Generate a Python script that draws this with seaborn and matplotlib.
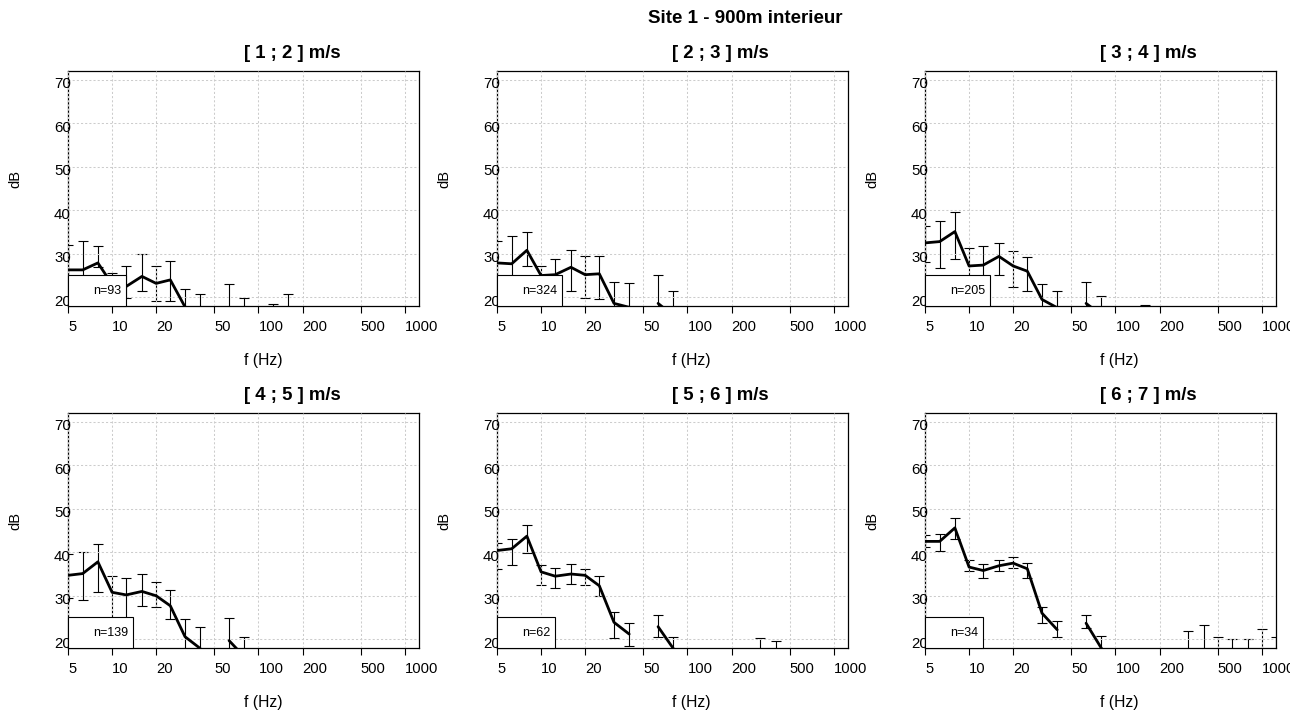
import numpy as np
import pandas as pd
import seaborn as sns
import matplotlib.pyplot as plt
from matplotlib.lines import Line2D
from matplotlib.ticker import NullLocator
from matplotlib.transforms import ScaledTranslation, Bbox, TransformedBbox

nan = np.nan

# 1/3 octave band centre frequencies (Hz), 50 Hz band is missing in every class
freqs = [5, 6.3, 8, 10, 12.5, 16, 20, 25, 31.5, 40, 50, 63, 80, 100, 125, 160,
         200, 250, 315, 400, 500, 630, 800, 1000, 1250]

titles = ["[ 1 ; 2 ] m/s", "[ 2 ; 3 ] m/s", "[ 3 ; 4 ] m/s",
          "[ 4 ; 5 ] m/s", "[ 5 ; 6 ] m/s", "[ 6 ; 7 ] m/s"]
counts = [93, 324, 205, 139, 62, 34]

mean_1_2 = [26.3, 26.3, 27.9, 23.0, 22.5, 24.8, 23.2, 24.0, 17.8, 16.5, nan, 17.0, 15.5,
            13.5, 15.0, 16.0, 13.0, 13.0, 13.0, 13.0, 13.0, 13.0, 13.0, 13.0, 13.0]
lo_1_2 = [21.0, 19.7, 26.9, 20.0, 19.9, 21.5, 19.2, 19.2, 13.5, 12.0, nan, 11.0, 11.0,
          10.0, 11.5, 11.0, 10.0, 10.0, 10.0, 10.0, 10.0, 10.0, 10.0, 10.0, 10.0]
hi_1_2 = [32.1, 32.9, 31.9, 25.5, 27.2, 29.9, 27.2, 28.3, 21.8, 20.8, nan, 23.0, 19.9,
          17.0, 18.5, 20.8, 16.0, 16.0, 16.0, 16.0, 16.0, 16.0, 16.0, 16.0, 16.0]

mean_2_3 = [27.9, 27.7, 30.8, 25.0, 25.2, 26.9, 25.2, 25.4, 18.6, 17.7, nan, 18.6, 15.8,
            13.0, 13.0, 13.0, 13.0, 13.0, 13.0, 13.0, 13.0, 13.0, 13.0, 13.0, 13.0]
lo_2_3 = [23.0, 21.5, 27.2, 22.5, 21.5, 21.5, 19.8, 19.6, 14.0, 12.5, nan, 12.0, 10.5,
          10.0, 10.0, 10.0, 10.0, 10.0, 10.0, 10.0, 10.0, 10.0, 10.0, 10.0, 10.0]
hi_2_3 = [32.9, 34.1, 35.0, 27.2, 28.9, 30.8, 29.5, 29.6, 23.6, 23.3, nan, 25.2, 21.5,
          16.0, 16.0, 16.0, 16.0, 16.0, 16.0, 16.0, 16.0, 16.0, 16.0, 16.0, 16.0]

mean_3_4 = [32.5, 32.8, 35.1, 27.2, 27.4, 29.4, 27.2, 26.0, 19.5, 17.6, nan, 18.6, 16.0,
            14.0, 14.0, 15.5, 13.0, 13.0, 13.0, 13.0, 13.0, 13.0, 13.0, 13.0, 13.0]
lo_3_4 = [28.1, 26.8, 28.8, 22.0, 22.5, 25.2, 22.3, 21.5, 15.0, 13.0, nan, 13.5, 11.5,
          11.0, 11.0, 12.5, 10.0, 10.0, 10.0, 10.0, 10.0, 10.0, 10.0, 10.0, 10.0]
hi_3_4 = [36.3, 37.5, 39.6, 31.3, 31.8, 32.5, 30.7, 29.2, 23.1, 21.5, nan, 23.5, 20.4,
          17.0, 17.2, 18.2, 16.0, 16.0, 16.0, 16.0, 16.0, 16.0, 16.0, 16.0, 16.0]

mean_4_5 = [34.7, 35.1, 37.8, 30.8, 30.2, 31.0, 30.0, 27.7, 20.6, 17.9, nan, 19.7, 16.0,
            13.0, 13.0, 13.0, 13.0, 13.0, 13.0, 13.0, 13.0, 13.0, 13.0, 13.0, 13.0]
lo_4_5 = [29.5, 29.1, 30.8, 25.0, 25.0, 27.7, 27.4, 24.6, 16.0, 13.0, nan, 14.5, 11.5,
          10.0, 10.0, 10.0, 10.0, 10.0, 10.0, 10.0, 10.0, 10.0, 10.0, 10.0, 10.0]
hi_4_5 = [39.5, 40.0, 42.0, 34.5, 34.1, 35.0, 33.1, 31.4, 24.6, 22.9, nan, 24.8, 20.6,
          16.0, 16.0, 16.0, 16.0, 16.0, 16.0, 16.0, 16.0, 16.0, 16.0, 16.0, 16.0]

mean_5_6 = [40.4, 40.8, 43.7, 35.5, 34.5, 35.0, 34.7, 32.3, 23.9, 21.2, nan, 22.9, 17.9,
            13.0, 13.0, 13.0, 13.0, 14.0, 15.5, 15.5, 13.0, 13.0, 13.0, 13.0, 13.0]
lo_5_6 = [36.2, 37.0, 39.8, 32.5, 31.7, 32.8, 32.5, 30.0, 20.2, 18.5, nan, 20.6, 14.5,
          10.0, 10.0, 10.0, 10.0, 11.0, 11.0, 12.0, 10.0, 10.0, 10.0, 10.0, 10.0]
hi_5_6 = [42.2, 43.1, 46.2, 37.0, 36.3, 37.2, 36.2, 34.5, 26.2, 23.8, nan, 25.6, 20.6,
          16.0, 16.0, 16.0, 16.0, 17.0, 20.2, 19.5, 16.0, 16.0, 16.0, 16.0, 16.0]

mean_6_7 = [42.5, 42.5, 45.6, 36.6, 35.8, 36.9, 37.5, 36.2, 26.0, 22.2, nan, 23.7, 18.0,
            13.0, 13.0, 13.0, 14.0, 16.0, 17.0, 17.5, 16.5, 16.5, 16.5, 17.0, 16.5]
lo_6_7 = [41.2, 40.2, 43.1, 35.6, 34.1, 35.8, 36.4, 34.1, 23.7, 20.6, nan, 22.5, 16.0,
          10.0, 10.0, 10.0, 11.0, 13.0, 12.2, 11.8, 12.4, 12.9, 12.9, 11.6, 12.4]
hi_6_7 = [43.9, 44.2, 47.9, 38.3, 37.2, 38.3, 38.8, 37.5, 27.4, 24.3, nan, 25.5, 20.8,
          16.0, 16.0, 16.0, 17.0, 17.5, 21.8, 23.2, 20.6, 20.1, 20.1, 22.4, 20.6]

means = [mean_1_2, mean_2_3, mean_3_4, mean_4_5, mean_5_6, mean_6_7]
lows = [lo_1_2, lo_2_3, lo_3_4, lo_4_5, lo_5_6, lo_6_7]
highs = [hi_1_2, hi_2_3, hi_3_4, hi_4_5, hi_5_6, hi_6_7]

xticks = [5, 10, 20, 50, 100, 200, 500, 1000]
yticks = [20, 30, 40, 50, 60, 70]

sns.set_theme(style="white", rc={
    "axes.edgecolor": "black", "text.color": "black", "axes.labelcolor": "black",
    "xtick.color": "black", "ytick.color": "black",
})
plt.rcParams["font.family"] = ["Liberation Sans", "DejaVu Sans"]

W, H = 1306, 713
fig = plt.figure(figsize=(W / 100, H / 100), dpi=100)
lift = ScaledTranslation(0, 2.5 / 100, fig.dpi_scale_trans)
# the original device cuts the last tick label of the right column
edge_clip = TransformedBbox(Bbox([[0, 0], [1290 / W, 1]]), fig.transFigure)

# panel boxes in pixels (R-like layout)
lefts = [68, 497, 925]
tops = [71, 413]
pw, ph = 351, 235

for i in range(6):
    r, c = divmod(i, 3)
    ax = fig.add_axes([lefts[c] / W, 1 - (tops[r] + ph) / H, pw / W, ph / H])

    df = pd.DataFrame({"f": freqs, "mean": means[i], "lo": lows[i], "hi": highs[i]})
    df["seg"] = df["mean"].isna().cumsum()

    # error bars (drawn under the grid, like the original)
    ax.errorbar(df["f"], df["mean"], yerr=[df["mean"] - df["lo"], df["hi"] - df["mean"]],
                fmt="none", ecolor="black", elinewidth=0.8, capsize=3.3, capthick=0.8,
                zorder=2)

    sns.lineplot(data=df.dropna(), x="f", y="mean", units="seg", estimator=None,
                 color="black", linewidth=2.0, ax=ax, zorder=3)

    ax.set_xscale("log")
    ax.set_xlim(5, 1250)
    ax.set_ylim(18, 72)
    ax.xaxis.set_minor_locator(NullLocator())
    ax.set_xticks(xticks, labels=[str(t) for t in xticks])
    ax.set_yticks(yticks, labels=[str(t) for t in yticks])
    ax.tick_params(axis="x", direction="out", length=5, width=0.8, pad=5, labelsize=10.6,
                   bottom=True)
    ax.tick_params(axis="y", length=0, pad=-2, labelsize=10.8)
    for lab in ax.get_xticklabels():
        lab.set_ha("left")
        if c == 2:
            lab.set_clip_box(edge_clip)
            lab.set_clip_on(True)
    for lab in ax.get_yticklabels():
        lab.set_va("top")
        lab.set_transform(lab.get_transform() + lift)

    ax.set_axisbelow(False)
    ax.grid(True, color="#cccccc", linestyle=(0, (2, 2)), linewidth=0.75)
    for sp in ax.spines.values():
        sp.set_linewidth(0.9)
        sp.set_color("black")

    ax.set_xlabel("f (Hz)", fontsize=11.3)
    ax.xaxis.set_label_coords(0.5, -54 / ph)
    ax.xaxis.label.set(ha="left", va="center")
    ax.set_ylabel("dB", fontsize=10.5)
    ax.yaxis.set_label_coords(-53 / pw, 0.5)
    ax.yaxis.label.set(ha="left", va="center", rotation_mode="anchor")

    ax.set_title(titles[i], y=1 + 17.5 / ph, pad=0, ha="left", va="center",
                 fontsize=13.4, fontweight="bold")

    h = Line2D([], [], linestyle="none")
    leg = ax.legend([h], [f"n={counts[i]}"], loc="lower left", borderaxespad=0,
                    fancybox=False, framealpha=1, edgecolor="black", fontsize=9,
                    borderpad=0.4, handlelength=1.2, handletextpad=0.4, handleheight=2.2)
    leg.get_frame().set_linewidth(0.8)

fig.suptitle("Site 1 - 900m interieur", x=648 / W, y=1 - 18.5 / H, ha="left", va="center",
             fontsize=13.5, fontweight="bold")

fig.savefig("out.png", dpi=100)
